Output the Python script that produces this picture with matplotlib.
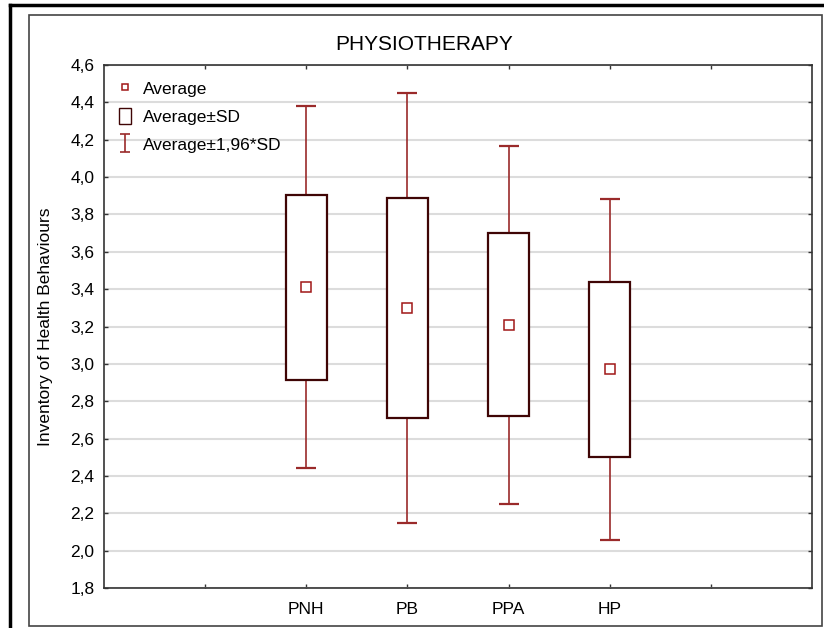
import matplotlib
matplotlib.use('Agg')
import numpy as np
import matplotlib.pyplot as plt
from matplotlib.lines import Line2D
from matplotlib.patches import Rectangle
from matplotlib.ticker import FuncFormatter

plt.rcParams['font.family'] = ['Liberation Sans', 'DejaVu Sans']

# Data
groups = ['PNH', 'PB', 'PPA', 'HP']
means = [3.41, 3.30, 3.21, 2.97]
sds = [0.494, 0.588, 0.489, 0.466]

box_color = '#3f0505'
whisk_color = '#9a2a2a'
mean_color = '#a01818'

means = np.array(means)
sds = np.array(sds)
pos = np.arange(len(groups)) + 2

fig = plt.figure(figsize=(8.24, 6.28), dpi=100)
ax = fig.add_axes([104 / 824, 40 / 628, 708 / 824, 523 / 628])

# whiskers (mean +/- 1.96 SD), drawn under the boxes
eb = ax.errorbar(pos, means, yerr=1.96 * sds, fmt='none', ecolor=whisk_color,
                 elinewidth=1.2, capsize=7, capthick=1.6, zorder=2)

# boxes (mean +/- SD)
bars = ax.bar(pos, 2 * sds, bottom=means - sds, width=0.4, facecolor='white',
              edgecolor=box_color, linewidth=1.6, zorder=3)

# means
mk, = ax.plot(pos, means, ls='none', marker='s', ms=6.5, mfc='white',
              mec=mean_color, mew=1.1, zorder=4)

ax.set_xlim(0, 7)
ax.set_ylim(1.8, 4.6)
ax.set_yticks(np.arange(1.8, 4.61, 0.2))
ax.set_xticks(range(1, 7))
ax.set_xticklabels([''] + groups + [''])
ax.yaxis.set_major_formatter(FuncFormatter(lambda v, p: f'{v:.1f}'.replace('.', ',')))

ax.grid(axis='y', color='#dcdcdc', lw=1.5, zorder=0)
ax.set_axisbelow(True)
ax.tick_params(direction='in', length=3, width=1, color='#333333',
               top=True, right=True, labelsize=12.5)
ax.tick_params(axis='y', pad=7)
ax.tick_params(axis='x', pad=10)
for s in ax.spines.values():
    s.set_color('#333333')
    s.set_linewidth(1.2)

ax.set_ylabel('Inventory of Health Behaviours', fontsize=12.5)
ax.yaxis.set_label_coords(-0.072, 0.5)

fig.text(0.515, 1 - 45 / 628, 'PHYSIOTHERAPY', ha='center', va='center', fontsize=15)

# legend
h_mean = Line2D([], [], ls='none', marker='s', ms=5, mfc='white', mec=mean_color, mew=1.1)
leg = ax.legend([h_mean, bars, eb], ['Average', 'Average±SD', 'Average±1,96*SD'],
                loc='upper left', frameon=False, fontsize=12.5, handlelength=0.7,
                handleheight=1.1, handletextpad=0.7, labelspacing=0.62,
                borderpad=0.45, borderaxespad=0.4)
leg.legend_handles[1].set_linewidth(1.0)
# narrower caps on the legend's error bar icon
for ln in leg.findobj(Line2D):
    if ln.get_marker() == '_':
        ln.set_markersize(7)
        ln.set_markeredgewidth(1.2)

# outer frames
fig.patches.append(Rectangle((29 / 824, 2 / 628), 793 / 824, 611 / 628,
                             transform=fig.transFigure, fill=False,
                             ec='#444444', lw=1.2))
fig.lines.append(Line2D([10 / 824, 10 / 824], [0, 1 - 5 / 628],
                        transform=fig.transFigure, color='black', lw=2.5))
fig.lines.append(Line2D([10 / 824, 1], [1 - 5 / 628, 1 - 5 / 628],
                        transform=fig.transFigure, color='black', lw=2.5))

fig.savefig('out.png', dpi=100)
